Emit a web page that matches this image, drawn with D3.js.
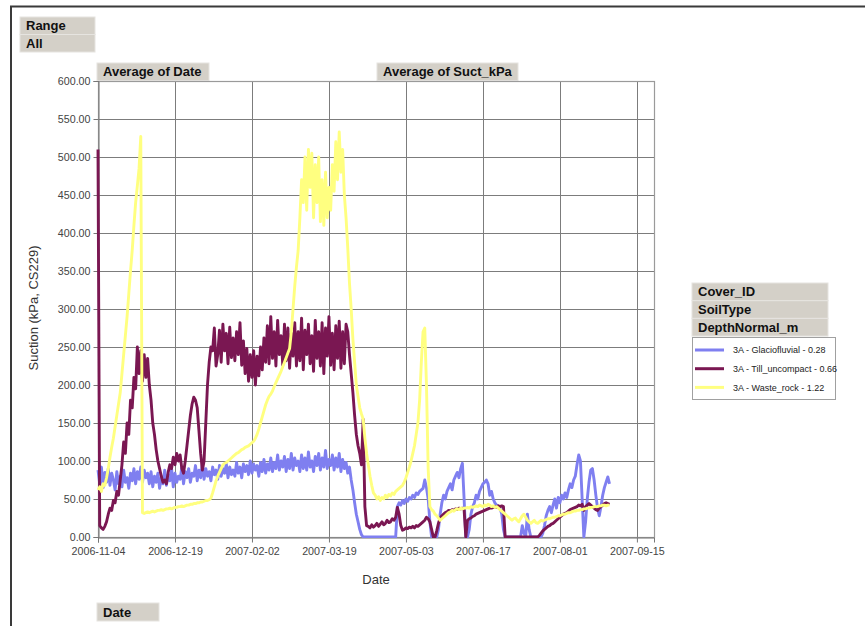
<!DOCTYPE html>
<html>
<head>
<meta charset="utf-8">
<script src="https://cdn.jsdelivr.net/npm/d3@7/dist/d3.min.js"></script>
<style>
  html, body { margin: 0; padding: 0; background: #fff; }
  svg { display: block; font-family: "Liberation Sans", Arial, sans-serif; }
</style>
</head>
<body>
<svg id="chart" width="865" height="626"></svg>
<script>
// Daily averages of suction (kPa), first value on 2006-11-04
const startDate = "2006-11-04";

const glaciofluvial = [
  88, 70, 92, 65, 85, 72, 90, 68, 84, 75,
  62, 86, 70, 80, 66, 88, 72, 78, 64, 84,
  74, 90, 70, 86, 76, 92, 72, 88, 78, 84,
  70, 86, 66, 80, 72, 84, 64, 78, 70, 88,
  68, 82, 74, 90, 66, 84, 72, 80, 76, 92,
  70, 86, 78, 90, 72, 84, 80, 94, 74, 88,
  78, 96, 76, 90, 80, 86, 74, 92, 82, 88,
  76, 94, 80, 90, 84, 96, 78, 92, 82, 88,
  80, 98, 84, 92, 78, 96, 86, 94, 82, 100,
  84, 96, 88, 94, 80, 98, 86, 102, 84, 96,
  88, 104, 86, 98, 90, 108, 88, 100, 92, 106,
  86, 102, 90, 110, 88, 104, 94, 100, 86, 108,
  90, 104, 88, 112, 92, 100, 86, 106, 94, 110,
  88, 104, 92, 114, 90, 102, 94, 108, 88, 104,
  92, 110, 86, 102, 90, 98, 84, 92, 75, 62,
  45, 30, 20, 10, 3, 0, 0, 0, 0, 0,
  0, 0, 0, 0, 0, 0, 0, 0, 0, 0,
  0, 0, 0, 0, 0, 40, 45, 42, 48, 44,
  50, 47, 52, 50, 55, 52, 58, 56, 60, 62,
  64, 75, 65, 50, 20, 0, 0, 0, 0, 10,
  30, 45, 55, 50, 60, 65, 70, 62, 75, 80,
  85, 78, 90, 97, 50, 0, 0, 10, 30, 40,
  45, 55, 50, 60, 65, 70, 72, 75, 70, 55,
  60, 50, 45, 42, 40, 38, 30, 10, 0, 0,
  0, 0, 0, 0, 0, 0, 0, 0, 15, 5,
  0, 30, 10, 0, 0, 0, 0, 0, 0, 0,
  5, 15, 28, 35, 40, 32, 42, 50, 38, 52,
  45, 55, 50, 58, 52, 62, 70, 65, 75, 80,
  95, 108, 100, 50, 0, 20, 50, 72, 88, 90,
  75, 55, 38, 28, 40, 55, 65, 72, 79, 70
];

const tillUncompact = [
  510, 15, 12, 10, 14, 20, 30, 38, 35, 48,
  45, 60, 55, 75, 95, 125, 110, 150, 135, 180,
  170, 210, 195, 250, 215, 245, 205, 240, 210, 235,
  200, 180, 150, 135, 115, 100, 90, 80, 72, 75,
  70, 85, 95, 90, 105, 95, 110, 100, 108, 90,
  84, 100, 120, 140, 160, 175, 184, 180, 170, 140,
  110, 88, 100, 150, 200, 230, 250, 245, 275, 225,
  240, 272, 230, 280, 245, 268, 228, 276, 236, 262,
  232, 270, 240, 282, 226, 258, 215, 248, 205, 240,
  210, 245, 200, 238, 212, 250, 220, 262, 230, 278,
  228, 290, 235, 270, 225, 285, 240, 265, 226, 280,
  232, 275, 222, 268, 238, 282, 225, 270, 232, 288,
  220, 272, 240, 280, 228, 265, 218, 285, 235, 270,
  225, 282, 215, 275, 238, 290, 226, 268, 220, 278,
  235, 284, 222, 270, 228, 280, 270, 240, 215, 190,
  160, 135, 120, 110, 95, 155, 40, 15, 14, 12,
  16, 13, 15, 18, 14, 17, 20, 16, 18, 22,
  19, 20, 24, 22, 26, 39, 30, 15, 9, 10,
  12, 11, 13, 12, 14, 12, 15, 14, 16, 18,
  20, 22, 26, 24, 20, 10, 0, 0, 8, 18,
  25, 28, 30, 32, 33, 35, 34, 36, 35, 37,
  36, 38, 37, 38, 36, 0, 22, 24, 25, 27,
  28, 30, 31, 32, 33, 34, 35, 36, 37, 38,
  38, 39, 40, 39, 41, 40, 41, 40, 0, 0,
  0, 0, 0, 0, 0, 0, 0, 0, 0, 0,
  0, 0, 0, 0, 0, 0, 0, 0, 2, 5,
  8, 10, 12, 14, 15, 17, 18, 20, 22, 24,
  26, 28, 30, 31, 32, 34, 36, 37, 38, 39,
  40, 42, 41, 43, 35, 40, 42, 44, 42, 40,
  38, 36, 35, 38, 40, 42, 44, 45, 44, 43
];

const wasteRock = [
  62, 66, 60, 70, 68, 78, 90, 105, 118, 130,
  145, 160, 175, 190, 215, 240, 265, 290, 320, 350,
  377, 410, 440, 462, 485, 527, 32, 31, 32, 33,
  32, 33, 34, 33, 34, 35, 35, 36, 35, 36,
  37, 37, 38, 37, 38, 39, 39, 40, 40, 41,
  40, 41, 42, 42, 43, 43, 44, 44, 45, 45,
  46, 46, 47, 48, 48, 49, 51, 58, 66, 74,
  80, 85, 90, 95, 97, 98, 100, 102, 104, 106,
  108, 110, 111, 113, 115, 116, 118, 119, 120, 122,
  124, 126, 130, 135, 142, 150, 158, 166, 174, 180,
  185, 188, 192, 198, 203, 208, 213, 218, 224, 230,
  236, 242, 248, 270, 300, 330, 355, 377, 420, 470,
  440, 500, 430, 510, 460, 505, 420, 490, 440, 500,
  415, 470, 410, 480, 420, 460, 430, 490, 455, 520,
  470, 533, 480, 510, 450, 420, 380, 334, 300, 260,
  230, 200, 185, 170, 162, 155, 130, 110, 95, 80,
  68, 58, 55, 50, 53, 48, 52, 50, 55, 52,
  56, 54, 58, 56, 60, 62, 64, 66, 68, 72,
  78, 85, 92, 100, 110, 120, 135, 150, 180, 230,
  270, 275, 200, 90, 40, 36, 34, 30, 28, 25,
  22, 24, 26, 28, 30, 32, 33, 35, 34, 36,
  37, 36, 38, 37, 38, 38, 39, 38, 40, 39,
  40, 41, 40, 42, 41, 40, 42, 41, 43, 42,
  40, 41, 39, 40, 38, 36, 34, 32, 30, 28,
  26, 24, 22, 24, 25, 22, 20, 24, 28, 30,
  26, 22, 20, 18, 20, 22, 19, 18, 20, 22,
  21, 22, 23, 24, 24, 25, 26, 26, 27, 28,
  28, 29, 30, 30, 31, 32, 32, 33, 34, 34,
  35, 35, 36, 36, 37, 37, 38, 38, 39, 39,
  40, 40, 40, 41, 41, 42, 42, 41, 42, 42
];

const seriesNames = [
  "3A - Glaciofluvial - 0.28",
  "3A - Till_uncompact - 0.66",
  "3A - Waste_rock - 1.22"
];
const seriesColors = ["#7f7ff0", "#7a1752", "#ffff80"];

const xTickLabels = ["2006-11-04", "2006-12-19", "2007-02-02", "2007-03-19",
                     "2007-05-03", "2007-06-17", "2007-08-01", "2007-09-15"];
const xAxisEnd = "2007-09-25";
const yTicks = [0, 50, 100, 150, 200, 250, 300, 350, 400, 450, 500, 550, 600];

const pivotRows = ["Range", "All"];
const legendFields = ["Cover_ID", "SoilType", "DepthNormal_m"];

// ---- drawing ----
const svg = d3.select("#chart");
const parse = d3.utcParse("%Y-%m-%d");
const fmt = d3.utcFormat("%Y-%m-%d");
const t0 = parse(startDate);

const plot = { left: 98, right: 654, top: 81, bottom: 537 };

const x = d3.scaleUtc()
  .domain([t0, parse(xAxisEnd)])
  .range([plot.left, plot.right]);
const y = d3.scaleLinear()
  .domain([0, 600])
  .range([plot.bottom, plot.top]);

// outer frame (left and top edges)
svg.append("line").attr("x1", 11).attr("x2", 11).attr("y1", 6).attr("y2", 626)
  .attr("stroke", "#3a3a3a").attr("stroke-width", 2);
svg.append("line").attr("x1", 10).attr("x2", 865).attr("y1", 6.5).attr("y2", 6.5)
  .attr("stroke", "#3a3a3a").attr("stroke-width", 2);

// field buttons
function fieldButton(px, py, w, h, label) {
  svg.append("rect").attr("x", px).attr("y", py).attr("width", w).attr("height", h)
    .attr("fill", "#d4d0c8").attr("stroke", "#e6e4e0").attr("stroke-width", 1);
  svg.append("text").attr("x", px + 6).attr("y", py + h / 2 + 4.5)
    .attr("font-size", 13).attr("font-weight", "bold").attr("fill", "#111")
    .text(label);
}
pivotRows.forEach((r, i) => fieldButton(20, 17 + i * 17.5, 75, 17.5, r));
fieldButton(97, 63, 112, 17.5, "Average of Date");
fieldButton(377, 63, 141, 17.5, "Average of Suct_kPa");
fieldButton(97, 603, 62, 18, "Date");

// gridlines
const xTickDates = xTickLabels.map(parse);
svg.append("g").selectAll("line").data(yTicks).join("line")
  .attr("x1", plot.left).attr("x2", plot.right)
  .attr("y1", d => Math.round(y(d)) + 0.5).attr("y2", d => Math.round(y(d)) + 0.5)
  .attr("stroke", "#7c7c7c").attr("stroke-width", 1);
svg.append("g").selectAll("line").data(xTickDates).join("line")
  .attr("x1", d => Math.round(x(d)) + 0.5).attr("x2", d => Math.round(x(d)) + 0.5)
  .attr("y1", plot.top).attr("y2", plot.bottom)
  .attr("stroke", "#7c7c7c").attr("stroke-width", 1);

// plot frame
svg.append("rect")
  .attr("x", plot.left + 0.5).attr("y", plot.top + 0.5)
  .attr("width", plot.right - plot.left).attr("height", plot.bottom - plot.top)
  .attr("fill", "none").attr("stroke", "#9a9a9a").attr("stroke-width", 1.2);

// axes
const yAxis = svg.append("g").attr("transform", `translate(${plot.left + 0.5},0)`)
  .call(d3.axisLeft(y).tickValues(yTicks).tickFormat(d3.format(".2f"))
    .tickSize(5).tickPadding(3));
const xAxis = svg.append("g").attr("transform", `translate(0,${plot.bottom + 0.5})`)
  .call(d3.axisBottom(x).tickValues(xTickDates).tickFormat(fmt)
    .tickSize(5).tickPadding(5));
[yAxis, xAxis].forEach(g => {
  g.select(".domain").attr("stroke", "#777");
  g.selectAll(".tick line").attr("stroke", "#777");
  g.selectAll(".tick text").attr("fill", "#444").attr("font-size", 10.7)
    .attr("font-family", "Liberation Sans, Arial, sans-serif");
});

// axis titles
svg.append("text").attr("x", 376).attr("y", 584).attr("text-anchor", "middle")
  .attr("font-size", 13).attr("fill", "#333").text("Date");
svg.append("text").attr("transform", "translate(38,308) rotate(-90)")
  .attr("text-anchor", "middle").attr("font-size", 13).attr("fill", "#333")
  .text("Suction (kPa, CS229)");

// series lines
const allSeries = [glaciofluvial, tillUncompact, wasteRock];
const line = d3.line()
  .x((d, i) => x(d3.utcDay.offset(t0, i)))
  .y(d => y(d));
svg.append("clipPath").attr("id", "plotclip").append("rect")
  .attr("x", plot.left - 2).attr("y", plot.top).attr("width", plot.right - plot.left + 2)
  .attr("height", plot.bottom - plot.top + 1);
svg.append("g").attr("clip-path", "url(#plotclip)")
  .selectAll("path").data(allSeries).join("path")
  .attr("d", line)
  .attr("fill", "none")
  .attr("stroke", (d, i) => seriesColors[i])
  .attr("stroke-width", 2.9)
  .attr("stroke-linejoin", "round");

// legend
legendFields.forEach((f, i) => fieldButton(692, 283 + i * 17.7, 136, 17.7, f));
svg.append("rect").attr("x", 692.5).attr("y", 337.5).attr("width", 143).attr("height", 62)
  .attr("fill", "#fff").attr("stroke", "#a0a0a0");
const leg = svg.append("g").selectAll("g").data(seriesNames).join("g")
  .attr("transform", (d, i) => `translate(0,${350 + i * 18.7})`);
leg.append("line").attr("x1", 695).attr("x2", 724).attr("y1", 0).attr("y2", 0)
  .attr("stroke", (d, i) => seriesColors[i]).attr("stroke-width", 3);
leg.append("text").attr("x", 733).attr("y", 3.3).attr("font-size", 9)
  .attr("fill", "#222").text(d => d);
</script>
</body>
</html>
